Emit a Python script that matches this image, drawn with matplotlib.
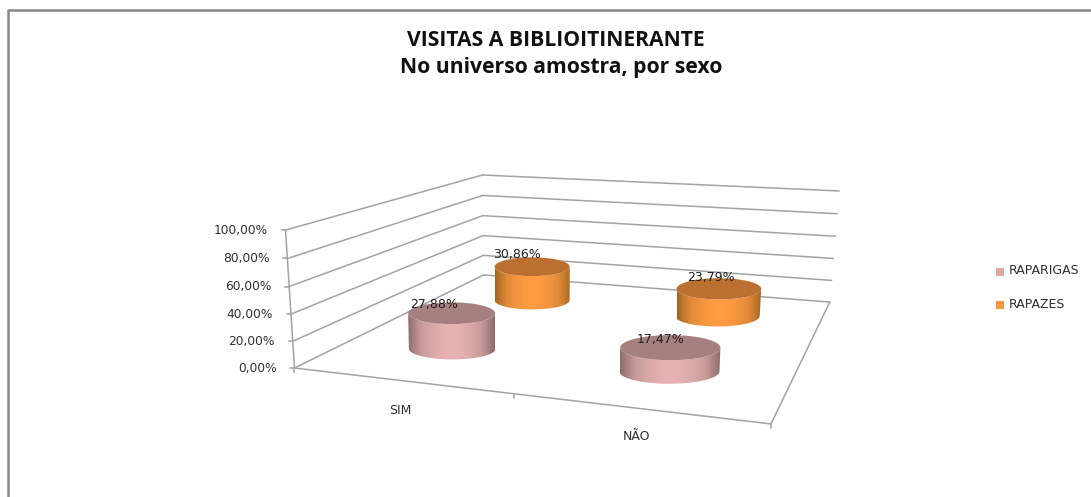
import numpy as np
import matplotlib
matplotlib.use('Agg')
import matplotlib.pyplot as plt
from matplotlib.colors import LinearSegmentedColormap
from matplotlib.patches import Polygon

line1 = "VISITAS A BIBLIOITINERANTE"
line2 = "No universo amostra, por sexo"
categories = ['SIM', 'NÃO']
series = ['RAPARIGAS', 'RAPAZES']
raparigas = [27.88, 17.47]
rapazes = [30.86, 23.79]
y_ticks = [0, 20, 40, 60, 80, 100]
y_labels = ['0,00%', '20,00%', '40,00%', '60,00%', '80,00%', '100,00%']

# (x, depth, value) -> pixel, solved from the corners of the box
world = np.array([[0, 0, 0], [2, 0, 0], [2, 2, 0], [0, 2, 0],
                  [0, 0, 100], [0, 2, 100], [2, 2, 100]], float)
pix = np.array([[295, 368], [771, 424], [830, 302], [483, 275],
                [285, 230], [483, 175], [839, 191]], float)
A = []
b = []
for (x, d, z), (u, v) in zip(world, pix):
    A.append([x, d, z, 1, 0, 0, 0, 0, -u * x, -u * d, -u * z])
    b.append(u)
    A.append([0, 0, 0, 0, x, d, z, 1, -v * x, -v * d, -v * z])
    b.append(v)
P = np.linalg.lstsq(np.array(A), np.array(b), rcond=None)[0]
P = np.append(P, 1).reshape(3, 4)


def project(x, d, z):
    x, d, z = np.broadcast_arrays(x, d, z)
    q = P @ np.vstack([x.ravel(), d.ravel(), z.ravel(), np.ones(x.size)])
    return q[0] / q[2], q[1] / q[2]


def line3(ax, a, b):
    xs, ys = project(*np.array([a, b], float).T)
    ax.plot(xs, ys, color='#a3a3a3', lw=1.1, solid_capstyle='round')


def cylinder(ax, cx, cd, h, cmap, top):
    # excel keeps the ellipses level on screen, only the centres follow the box
    ub, vb = project(cx, cd, 0)
    ut, vt = project(cx, cd, h)
    ul, _ = project(cx - 0.215, cd, 0)
    ur, _ = project(cx + 0.215, cd, 0)
    hw = (ur[0] - ul[0]) / 2
    hh = hw * 0.25
    z = 5 - cd
    th = np.linspace(0, np.pi, 90)
    front = np.column_stack([ub[0] + hw * np.cos(th), vb[0] + hh * np.sin(th)])
    back = np.column_stack([ut[0] + hw * np.cos(th[::-1]), vt[0] + hh * np.sin(th[::-1])])
    side = Polygon(np.vstack([front, back]), closed=True, transform=ax.transData, fc='none', ec='none')
    ax.add_patch(side)
    grad = np.abs(np.linspace(-1, 1, 200)).reshape(1, -1) ** 1.8
    im = ax.imshow(grad, cmap=cmap, vmin=0, vmax=1, aspect='auto', zorder=z, interpolation='bilinear',
                   extent=(ut[0] - hw, ut[0] + hw, vb[0] + hh + 1, vt[0] - hh - 1))
    im.set_clip_path(side)
    tth = np.linspace(0, 2 * np.pi, 120)
    ax.fill(ut[0] + hw * np.cos(tth), vt[0] + hh * np.sin(tth), color=top, lw=0, zorder=z + 0.1)


fig = plt.figure(figsize=(10.91, 4.97), dpi=100)
ax = fig.add_axes([0, 0, 1, 1])

# chart frame
ax.plot([8, 8, 1091], [497, 10, 10], color='#868686', lw=1.8)

# walls
for z in y_ticks:
    line3(ax, (0, 0, z), (0, 2, z))
    line3(ax, (0, 2, z), (2, 2, z))
line3(ax, (0, 0, 0), (0, 0, 100))
line3(ax, (0, 0, 0), (2, 0, 0))
line3(ax, (2, 0, 0), (2, 2, 0))

# ticks
for z, lab in zip(y_ticks, y_labels):
    u, v = project(0, 0, z)
    ax.plot([u[0] - 4, u[0]], [v[0], v[0]], color='#a3a3a3', lw=1.1)
    ax.text(u[0] - 18, v[0], lab, ha='right', va='center', fontsize=8.8, color='#303030')
for x in [0, 1, 2]:
    u, v = project(x, 0, 0)
    ax.plot([u[0], u[0]], [v[0], v[0] + 4], color='#a3a3a3', lw=1.1)
cat_pos = [(400, 410), (637, 437)]
for lab, (u, v) in zip(categories, cat_pos):
    ax.text(u, v, lab, ha='center', va='center', fontsize=9, color='#303030')

# cylinders, back row first
pink = (LinearSegmentedColormap.from_list('p', ['#e8b2b2', '#c99c9c', '#8d6a6b']), '#a67f7f')
orange = (LinearSegmentedColormap.from_list('o', ['#ff9c42', '#e08a3a', '#a3641f']), '#bb6f30')
lab_off = [[(-18, -9), (-10, -8)], [(-15, -12), (-8, -11)]]
for s, (vals, (cmap, top)) in reversed(list(enumerate(zip([raparigas, rapazes], [pink, orange])))):
    for c, v in enumerate(vals):
        cylinder(ax, c + 0.5, s + 0.5, v, cmap, top)
for s, vals in enumerate([raparigas, rapazes]):
    for c, v in enumerate(vals):
        u, w = project(c + 0.5, s + 0.5, v)
        off = lab_off[s][c]
        ax.text(u[0] + off[0], w[0] + off[1], f'{v:.2f}%'.replace('.', ','), ha='center', va='center',
                fontsize=9, color='#202020', zorder=10)

# legend
for lab, col, y in zip(series, ['#dfa9ac', '#f79646'], [272, 305]):
    ax.fill([996, 1004, 1004, 996], [y - 4, y - 4, y + 4, y + 4], color=col, lw=0)
    ax.text(1009, y - 1, lab, ha='left', va='center', fontsize=9, color='#303030')

ax.text(556, 41, line1, ha='center', va='center', fontsize=15.2, fontweight='bold',
        family='Open Sans', color='#111111')
ax.text(561, 68, line2, ha='center', va='center', fontsize=15.2, fontweight='bold',
        family='Open Sans', color='#111111')

ax.set_xlim(0, 1091)
ax.set_ylim(497, 0)
ax.axis('off')

fig.savefig('out.png', dpi=100)
